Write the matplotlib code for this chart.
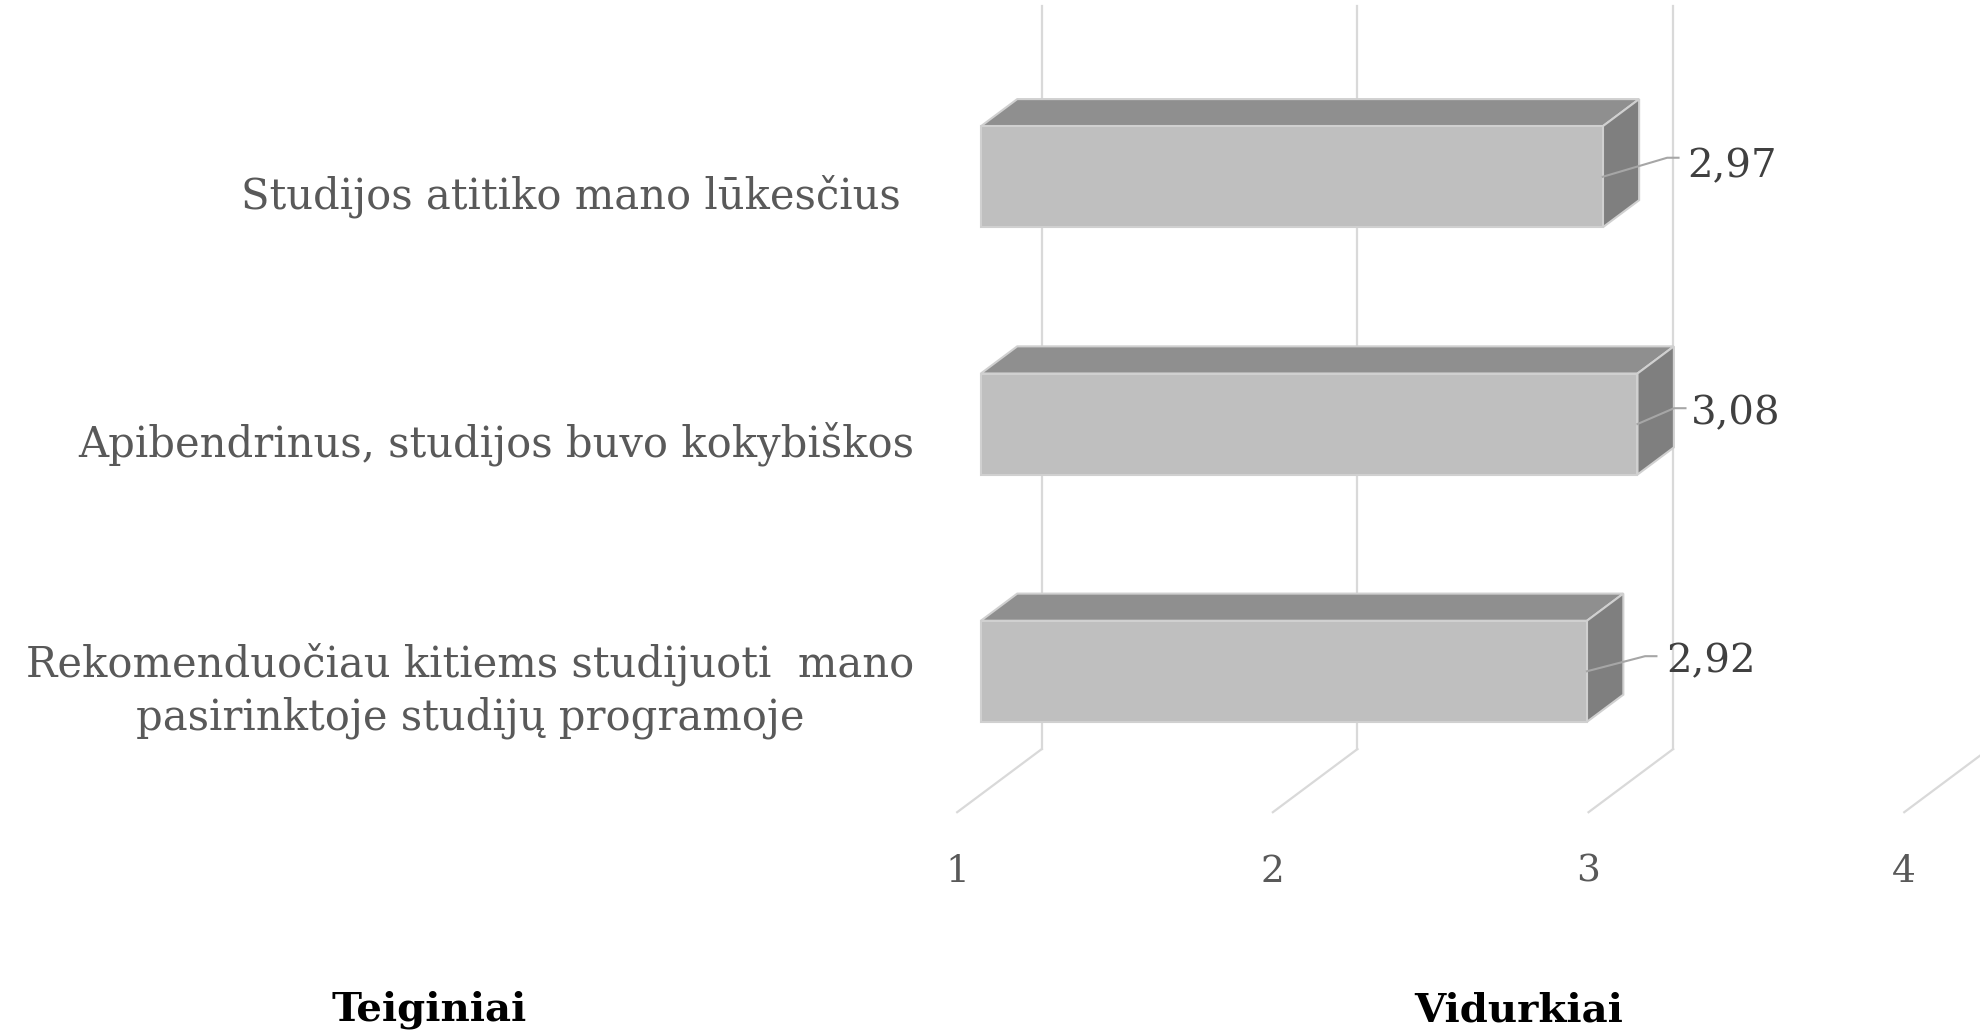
import matplotlib
matplotlib.use("Agg")
import matplotlib.pyplot as plt
from matplotlib.patches import Polygon

categories = ["Studijos atitiko mano lūkesčius ",
              "Apibendrinus, studijos buvo kokybiškos",
              "Rekomenduočiau kitiems studijuoti  mano\npasirinktoje studijų programoje"]
values = [2.97, 3.08, 2.92]
value_labels = ["2,97", "3,08", "2,92"]
x_ticks = [1, 2, 3, 4]
x_title = "Vidurkiai"
y_title = "Teiginiai"

# label placement (layout only)
leader_dx = [0.204, 0.116, 0.184]
leader_dy = [-0.077, -0.064, -0.061]
text_dx = [0.268, 0.168, 0.252]

FONT = ["DejaVu Serif"]
DX, DY = 0.268, -0.2554       # depth vector (front plane -> back plane)
F0, F1 = 0.28, 0.71          # bar depth range
H = 0.4087                   # bar height
FLOOR = 2.570
TOP = -0.434
XMIN = 1

fig = plt.figure(figsize=(19.8, 10.32), dpi=100)
ax = fig.add_axes([0, 0, 1, 1])
ax.set_xlim(-2.032, 4.24)
ax.set_ylim(3.459, -0.715)
ax.axis("off")

def P(x, y, d):
    return (x + d * DX, y + d * DY)

grid_c = "#D9D9D9"
for t in x_ticks:
    b = P(t, FLOOR, 1); tp = P(t, TOP, 1); f = P(t, FLOOR, 0)
    ax.plot([tp[0], b[0]], [tp[1], b[1]], color=grid_c, lw=1.6, zorder=1)
    ax.plot([b[0], f[0]], [b[1], f[1]], color=grid_c, lw=1.6, zorder=1)
    ax.text(t, 2.81, str(t), ha="center", va="center", fontsize=27,
            color="#595959", family=FONT)

edge = "#D0D0D0"
for i, v in enumerate(values):
    yc = i - F0 * DY
    top, bot = yc - H / 2, yc + H / 2
    front = [P(XMIN, top, F0), P(v, top, F0), P(v, bot, F0), P(XMIN, bot, F0)]
    topf = [P(XMIN, top, F0), P(v, top, F0), P(v, top, F1), P(XMIN, top, F1)]
    side = [P(v, top, F0), P(v, bot, F0), P(v, bot, F1), P(v, top, F1)]
    ax.add_patch(Polygon(topf, closed=True, fc="#8F8F8F", ec=edge, lw=1.5, zorder=3))
    ax.add_patch(Polygon(side, closed=True, fc="#7F7F7F", ec=edge, lw=1.5, zorder=3))
    ax.add_patch(Polygon(front, closed=True, fc="#BFBFBF", ec=edge, lw=1.5, zorder=4))
    # leader line + value label
    x0 = v + F0 * DX
    ey = i + leader_dy[i]
    ax.plot([x0, x0 + leader_dx[i], x0 + leader_dx[i] + 0.036], [i, ey, ey],
            color="#A6A6A6", lw=1.5, zorder=5)
    ax.text(x0 + text_dx[i], i - 0.04, value_labels[i], ha="left", va="center",
            fontsize=29, color="#404040", family=FONT, zorder=6)
    # category label
    ax.text(0.864, i + 0.08, categories[i], ha="right", va="center",
            multialignment="center", fontsize=30, color="#595959",
            family=FONT, linespacing=1.32)

fig.text(429 / 1980, 22 / 1032, y_title, ha="center", va="center",
         fontsize=29, fontweight="bold", color="black", family=FONT)
fig.text(1519 / 1980, 22 / 1032, x_title, ha="center", va="center",
         fontsize=29, fontweight="bold", color="black", family=FONT)

fig.savefig("out.png", dpi=100, facecolor="white")
